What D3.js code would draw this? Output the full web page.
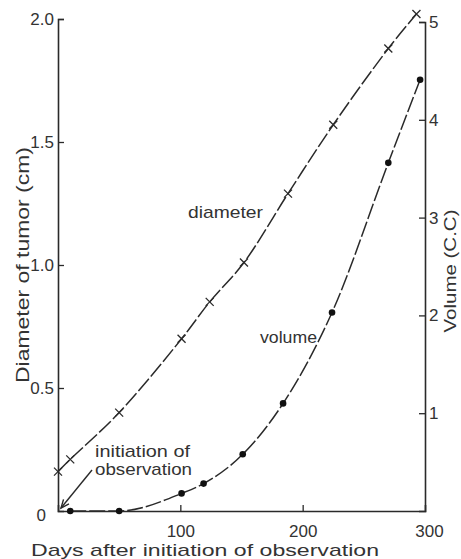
<!DOCTYPE html>
<html lang="en">
<head>
  <meta charset="UTF-8">
  <title>Tumor growth</title>
  <script src="https://cdn.jsdelivr.net/npm/d3@7"></script>
  <style>
    body { margin: 0; background: #fff; }
    text { font-family: "Liberation Sans", Arial, sans-serif; fill: #333; }
  </style>
</head>
<body>
  <script>
    // data
    const diamDays = [0, 10, 50, 101, 124, 152, 188, 225, 270, 293];
    const diamCm = [0.16, 0.21, 0.40, 0.70, 0.85, 1.01, 1.29, 1.57, 1.88, 2.02];
    const volDays = [10, 50, 101, 119, 151, 184, 224, 270, 296];
    const volCc = [0, 0, 0.18, 0.28, 0.58, 1.10, 2.03, 3.56, 4.41];
    const xTicks = [100, 200, 300];
    const leftTicks = [0, 0.5, 1.0, 1.5, 2.0];
    const rightTicks = [1, 2, 3, 4, 5];

    const width = 461, height = 559;
    const ink = "#2a2a2a";

    const svg = d3.select("body").append("svg")
      .attr("width", width)
      .attr("height", height);

    const x = d3.scaleLinear().domain([0, 300]).range([58, 425]);
    const yL = d3.scaleLinear().domain([0, 2]).range([511, 19]);
    const yR = d3.scaleLinear().domain([0, 5]).range([511, 22]);

    // axes, ticks point inward
    const gx = svg.append("g").attr("transform", "translate(0,511)")
      .call(d3.axisBottom(x).tickValues(xTicks).tickSize(-6).tickPadding(14));
    const gl = svg.append("g").attr("transform", "translate(58,0)")
      .call(d3.axisLeft(yL).tickValues(leftTicks).tickSize(-6).tickPadding(4)
        .tickFormat(d => d === 0 ? "0" : d3.format(".1f")(d)));
    const gr = svg.append("g").attr("transform", "translate(425,0)")
      .call(d3.axisRight(yR).tickValues(rightTicks).tickSize(-6).tickPadding(4)
        .tickFormat(d3.format("d")));

    [gx, gl, gr].forEach(g => {
      g.select(".domain").attr("stroke", ink).attr("stroke-width", 1.6);
      g.selectAll(".tick line").attr("stroke", ink).attr("stroke-width", 1.3);
      g.selectAll(".tick text").attr("font-size", 17).style("fill", "#333")
        .attr("font-family", "Liberation Sans, Arial, sans-serif");
    });
    gl.selectAll(".tick").filter(d => d === 0).select("line").remove();
    gl.selectAll(".tick").filter(d => d === 0).select("text").attr("dx", -8).attr("dy", "0.55em");
    gx.selectAll(".tick").filter(d => d === 300).select("line").remove();
    gx.selectAll(".tick").filter(d => d === 300).select("text").attr("dx", 4);

    // axis titles
    svg.append("text")
      .attr("transform", "translate(205,556)")
      .attr("text-anchor", "middle")
      .attr("font-size", 17)
      .attr("textLength", 348).attr("lengthAdjust", "spacingAndGlyphs")
      .text("Days after initiation of observation");

    svg.append("text")
      .attr("transform", "translate(29,265) rotate(-90)")
      .attr("text-anchor", "middle")
      .attr("font-size", 18)
      .attr("textLength", 236).attr("lengthAdjust", "spacingAndGlyphs")
      .text("Diameter of tumor (cm)");

    svg.append("text")
      .attr("transform", "translate(456,271) rotate(-90)")
      .attr("text-anchor", "middle")
      .attr("font-size", 17)
      .attr("textLength", 123).attr("lengthAdjust", "spacingAndGlyphs")
      .text("Volume (C.C)");

    // series
    const diam = diamDays.map((d, i) => [d, diamCm[i]]);
    const vol = volDays.map((d, i) => [d, volCc[i]]);

    const lineL = d3.line().x(d => x(d[0])).y(d => yL(d[1])).curve(d3.curveCatmullRom.alpha(0.5));
    const lineR = d3.line().x(d => x(d[0])).y(d => yR(d[1])).curve(d3.curveMonotoneX);

    svg.append("path").datum(diam)
      .attr("d", lineL)
      .attr("fill", "none").attr("stroke", ink).attr("stroke-width", 1.5)
      .attr("stroke-dasharray", "16,3");

    svg.append("path").datum(vol)
      .attr("d", lineR)
      .attr("fill", "none").attr("stroke", ink).attr("stroke-width", 1.5)
      .attr("stroke-dasharray", "16,3");

    // x markers for diameter
    const xm = 4;
    svg.append("g").selectAll("path").data(diam).enter().append("path")
      .attr("d", d => {
        const cx = x(d[0]), cy = yL(d[1]);
        return `M${cx - xm},${cy - xm}L${cx + xm},${cy + xm}M${cx - xm},${cy + xm}L${cx + xm},${cy - xm}`;
      })
      .attr("stroke", ink).attr("stroke-width", 1.3).attr("fill", "none");

    // dots for volume
    svg.append("g").selectAll("circle").data(vol).enter().append("circle")
      .attr("cx", d => x(d[0]))
      .attr("cy", d => yR(d[1]))
      .attr("r", 3.3)
      .attr("fill", "#111");

    // series labels
    svg.append("text").attr("x", 188).attr("y", 218).attr("font-size", 17)
      .attr("textLength", 75).attr("lengthAdjust", "spacingAndGlyphs").text("diameter");
    svg.append("text").attr("x", 260).attr("y", 343).attr("font-size", 17)
      .attr("textLength", 57).attr("lengthAdjust", "spacingAndGlyphs").text("volume");

    // annotation
    svg.append("text").attr("x", 95).attr("y", 457).attr("font-size", 17)
      .attr("textLength", 95).attr("lengthAdjust", "spacingAndGlyphs").text("initiation of");
    svg.append("text").attr("x", 95).attr("y", 475).attr("font-size", 17)
      .attr("textLength", 97).attr("lengthAdjust", "spacingAndGlyphs").text("observation");

    const a0 = [92, 470], a1 = [61, 508];
    svg.append("line")
      .attr("x1", a0[0]).attr("y1", a0[1]).attr("x2", a1[0]).attr("y2", a1[1])
      .attr("stroke", ink).attr("stroke-width", 1.4);
    const ang = Math.atan2(a1[1] - a0[1], a1[0] - a0[0]);
    const hl = 9;
    svg.append("path")
      .attr("d", `M${a1[0] - hl * Math.cos(ang - 0.4)},${a1[1] - hl * Math.sin(ang - 0.4)}L${a1[0]},${a1[1]}L${a1[0] - hl * Math.cos(ang + 0.4)},${a1[1] - hl * Math.sin(ang + 0.4)}`)
      .attr("stroke", ink).attr("stroke-width", 1.4).attr("fill", "none");
  </script>
</body>
</html>
